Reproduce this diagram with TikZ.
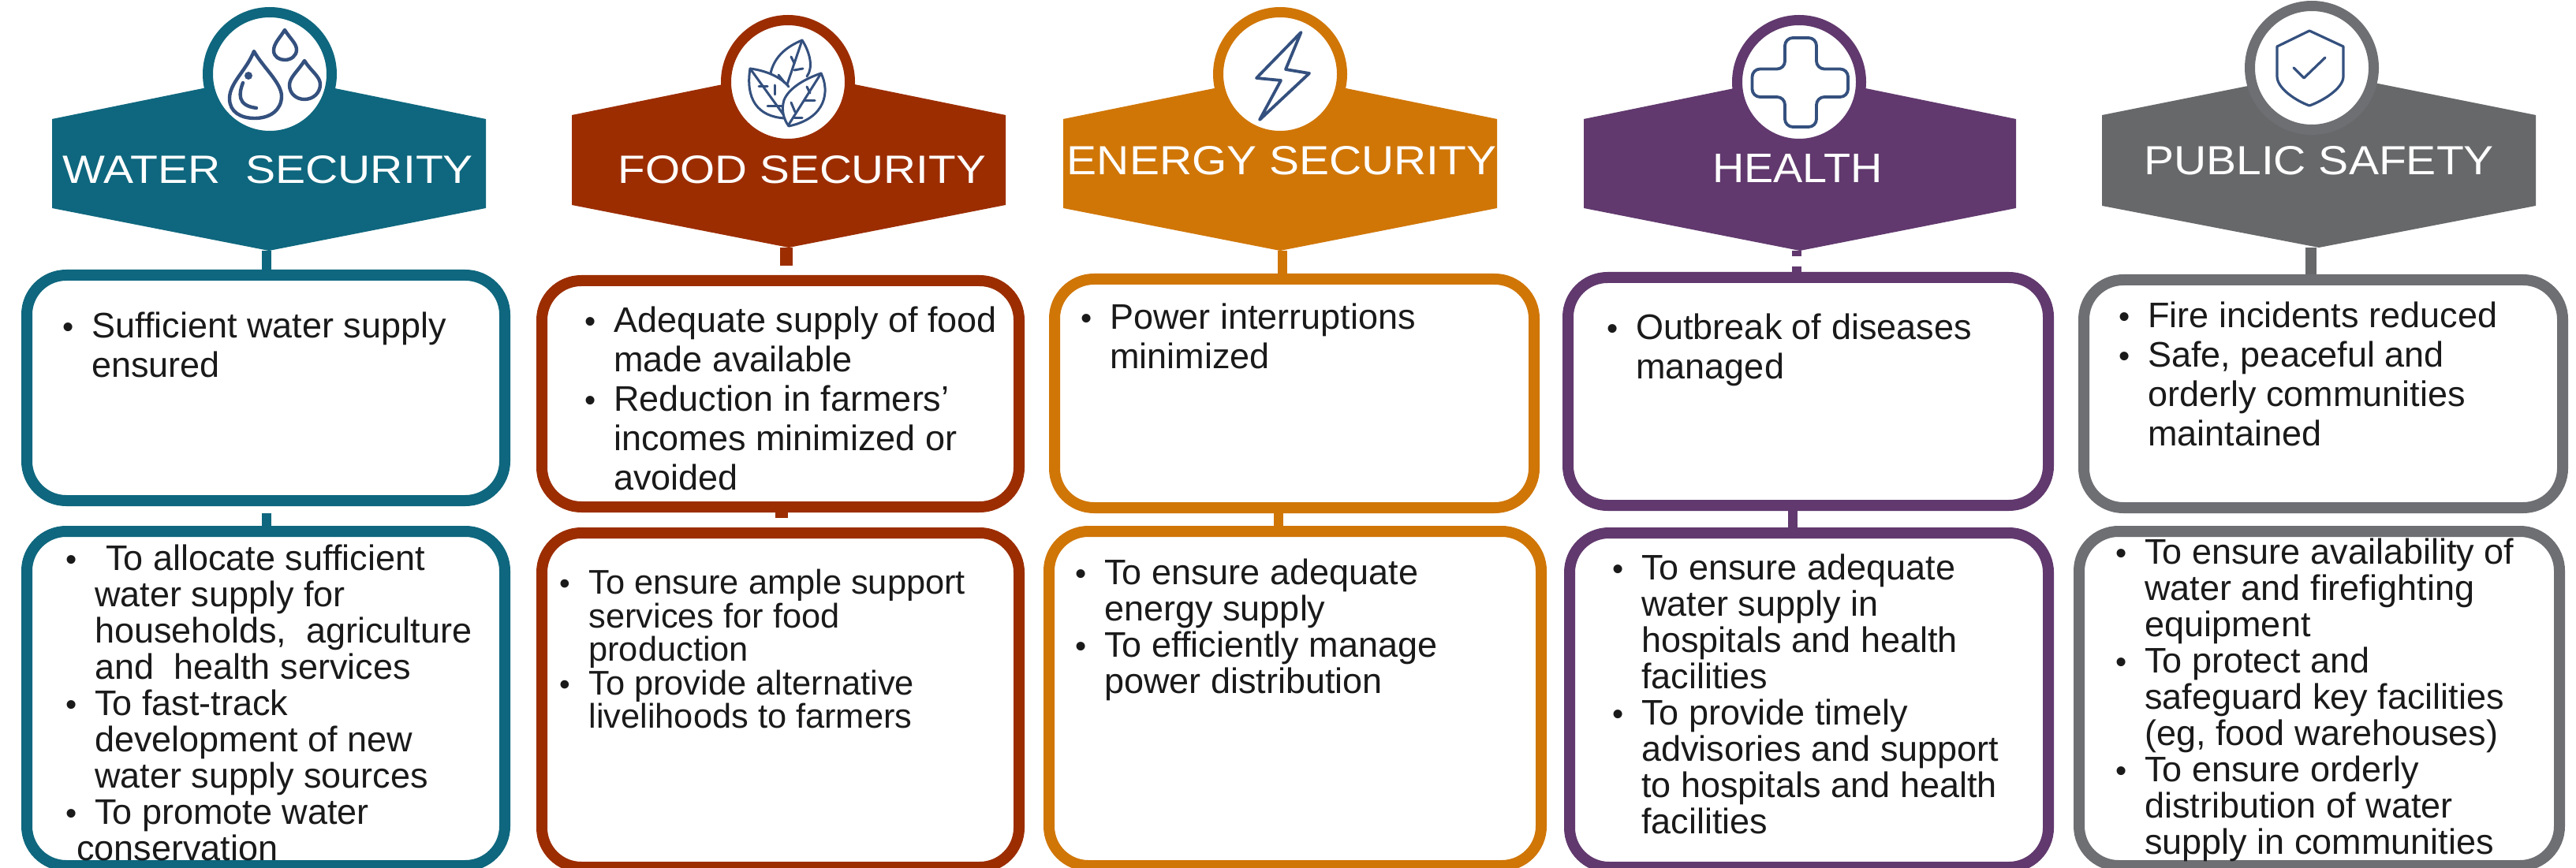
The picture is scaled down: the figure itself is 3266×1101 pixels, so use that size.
\documentclass[tikz,border=0pt]{standalone}
\usepackage{fontspec}
\usepackage{graphicx}
\setmainfont{Liberation Sans}
\definecolor{cteal}{HTML}{0E677E}
\definecolor{crust}{HTML}{9C2D00}
\definecolor{corange}{HTML}{D07607}
\definecolor{cpurple}{HTML}{61396E}
\definecolor{cgray}{HTML}{67686A}
\definecolor{cgrayb}{HTML}{6E6F73}
\definecolor{cicon}{HTML}{34507E}
\definecolor{ctext}{HTML}{1A1A1A}
\tikzset{
  panel/.style={draw=#1,fill=white,line width=7pt,rounded corners=25pt,inner sep=0pt,outer sep=3.5pt},
  ring/.style={circle,draw=#1,fill=white,line width=6.5pt,minimum size=78.5pt,inner sep=0pt},
  link/.style={draw=#1,line width=6pt},
  title/.style={text=white,inner sep=0pt},
  bodyA/.style={anchor=north west,inner sep=0pt,align=left,text=ctext,font=\fontsize{22.5}{25}\selectfont},
  bodyB/.style={anchor=north west,inner sep=0pt,align=left,text=ctext,font=\fontsize{22.5}{23}\selectfont},
  bodyC/.style={anchor=north west,inner sep=0pt,align=left,text=ctext,font=\fontsize{21.7}{21.3}\selectfont},
  icon/.style={draw=cicon,line width=2.2pt,line cap=round,line join=round},
  iconthin/.style={draw=cicon,line width=1.5pt,line cap=round,line join=round},
}
\newcommand\bu{\llap{\makebox[0pt]{\scalebox{0.9}{•}}\hspace{15pt}}}
\newcommand\fl{\rule{0pt}{21pt}}
% name colour x1 y1 x2 y2 (outer extents, px)
\newcommand\panelbox[6]{\node[panel=#2,minimum width={(#5-#3-14)*0.5pt},minimum height={(#6-#4-14)*0.5pt}] (#1) at ({(#3+#5)/2},{(#4+#6)/2}) {};}
% name colour cx halfwidth apex shoulder1 shoulder2 tip
\newcommand\hexa[8]{\fill[#2] (#3,#5) -- (#3+#4,#6) -- (#3+#4,#7) -- (#3,#8) -- (#3-#4,#7) -- (#3-#4,#6) -- cycle; \coordinate (#1) at (#3,#8);}
\newcommand\ttl[3]{\resizebox{#1pt}{#2pt}{#3}}
\begin{document}
\begin{tikzpicture}[x=0.5pt,y=-0.5pt]
\clip (0,0) rectangle (3266,1101);
\fill[white] (0,0) rectangle (3266,1101);

% ---------- headers
\hexa{wtip}{cteal}{341}{275}{95}{151}{264}{318}
\hexa{ftip}{crust}{1000}{275}{90}{146}{260}{314}
\hexa{etip}{corange}{1623}{275}{95}{151}{264}{318}
\hexa{htip}{cpurple}{2282}{274}{95}{151}{264}{318}
\hexa{stip}{cgray}{2940}{275}{91}{146}{261}{314}

\node[ring=cteal] (wic) at (342,94) {};
\node[ring=crust] (fic) at (999,104) {};
\node[ring=corange] (eic) at (1623,94) {};
\node[ring=cpurple] (hic) at (2281,104) {};
\node[ring=cgrayb] (sic) at (2931,86) {};

\node[title] (wt) at (340,215) {\ttl{260}{17.5}{WATER\ \ SECURITY}};
\node[title] (ft) at (1017,215) {\ttl{233}{17.5}{FOOD SECURITY}};
\node[title] (et) at (1625,204) {\ttl{272}{18}{ENERGY SECURITY}};
\node[title] (ht) at (2279,214) {\ttl{108}{18}{HEALTH}};
\node[title] (st) at (2940,204) {\ttl{222}{18}{PUBLIC SAFETY}};

% ---------- panels
\panelbox{wa}{cteal}{27}{342}{647}{642}
\panelbox{wb}{cteal}{27}{667}{647}{1105}
\panelbox{fa}{crust}{680}{349}{1299}{650}
\panelbox{fb}{crust}{680}{669}{1299}{1107}
\panelbox{ea}{corange}{1330}{347}{1952}{651}
\panelbox{eb}{corange}{1323}{667}{1961}{1105}
\panelbox{ha}{cpurple}{1981}{345}{2604}{648}
\panelbox{hb}{cpurple}{1983}{669}{2604}{1107}
\panelbox{sa}{cgrayb}{2635}{348}{3256}{651}
\panelbox{sb}{cgrayb}{2629}{667}{3252}{1105}

% ---------- connectors
\coordinate (wj) at (338,651);
\coordinate (wk) at (338,318);
\coordinate (fk) at (997,314);
\coordinate (fl) at (997,337);
\coordinate (fm) at (991,657);
\coordinate (ek) at (1626,318);
\coordinate (ej) at (1621,651);
\coordinate (hk) at (2278,318);
\coordinate (hl) at (2278,325);
\coordinate (hm) at (2278,338);
\coordinate (hj) at (2273,648);
\coordinate (sk) at (2930,314);
\draw[link=cteal] (wk) -- (wk |- wa.north);
\draw[link=cteal] (wj) -- (wj |- wb.north);
\draw[link=crust,line width=8pt] (fk) -- (fl);
\draw[link=crust,line width=8pt] (fm) -- (fm |- fa.south);
\draw[link=corange] (ek) -- (ek |- ea.north);
\draw[link=corange] (ej |- ea.south) -- (ej |- eb.north);
\draw[link=cpurple] (hk) -- (hl);
\draw[link=cpurple] (hm) -- (hm |- ha.north);
\draw[link=cpurple] (hj |- ha.south) -- (hj |- hb.north);
\draw[link=cgray,line width=7pt] (sk) -- (sk |- sa.north);

% ---------- texts
\node[bodyA] (wat) at (116,386) {\fl\bu Sufficient water supply\\ensured};
\node[bodyB] (wbt) at (120,681) {\fl\bu\hspace*{7pt}To allocate sufficient\\water supply for\\households,~ agriculture\\and~ health services\\\bu To fast-track\\development of new\\water supply sources\\\bu To promote water\\\hspace*{-11.5pt}conservation};
\node[bodyA] (fat) at (778,379) {\fl\bu Adequate supply of food\\made available\\\bu Reduction in farmers'\\incomes minimized or\\avoided};
\node[bodyC] (fbt) at (746,711) {\fl\bu To ensure ample support\\services for food\\production\\\bu To provide alternative\\livelihoods to farmers};
\node[bodyA] (eat) at (1407,375) {\fl\bu Power interruptions\\minimized};
\node[bodyB] (ebt) at (1400,699) {\fl\bu To ensure adequate\\energy supply\\\bu To efficiently manage\\power distribution};
\node[bodyA] (hat) at (2074,388) {\fl\bu Outbreak of diseases\\managed};
\node[bodyB] (hbt) at (2081,693) {\fl\bu To ensure adequate\\water supply in\\hospitals and health\\facilities\\\bu To provide timely\\advisories and support\\to hospitals and health\\facilities};
\node[bodyA] (sat) at (2723,373) {\fl\bu Fire incidents reduced\\\bu Safe, peaceful and\\orderly communities\\maintained};
\node[bodyB] (sbt) at (2719,673) {\fl\bu To ensure availability of\\water and firefighting\\equipment\\\bu To protect and\\safeguard key facilities\\(eg, food warehouses)\\\bu To ensure orderly\\distribution of water\\supply in communities};

% ---------- icons
% water drops
\draw[icon] (322,65) .. controls (312,90) and (291,105) .. (291,125) .. controls (291,142) and (305,150) .. (323,150) .. controls (342,150) and (357,140) .. (357,122) .. controls (357,105) and (333,85) .. (322,65) -- cycle;
\draw[icon] (361,38) .. controls (355,48) and (347,55) .. (347,64) .. controls (347,72) and (354,76) .. (361,76) .. controls (369,76) and (376,71) .. (376,63) .. controls (376,55) and (367,48) .. (361,38) -- cycle;
\draw[icon] (386,77) .. controls (378,90) and (367,98) .. (367,108) .. controls (367,119) and (376,126) .. (386,126) .. controls (397,126) and (406,118) .. (406,107) .. controls (406,97) and (394,90) .. (386,77) -- cycle;
\draw[icon] (308,105) .. controls (303,118) and (300,134) .. (325,137);
\fill[cicon] (315,96) circle (5);

% leaves
\draw[iconthin] (977,93) .. controls (982,70) and (1000,58) .. (1017,51) .. controls (1026,65) and (1032,85) .. (1023,97);
\draw[iconthin] (1017,51) -- (998,107);
\draw[iconthin] (1003,72) -- (1007,80);
\draw[iconthin] (1007,89) -- (1018,87);
\draw[iconthin] (987,95) -- (995,105);
\draw[iconthin] (951,87) .. controls (975,90) and (992,100) .. (1000,110);
\draw[iconthin] (951,87) .. controls (945,125) and (960,148) .. (995,150);
\draw[iconthin] (951,87) -- (993,145);
\draw[iconthin] (962,110) -- (973,110);
\draw[iconthin] (982,108) -- (982,120);
\draw[iconthin] (973,135) -- (991,135);
\draw[iconthin] (1041,93) .. controls (1020,100) and (1000,112) .. (994,127) .. controls (990,140) and (994,152) .. (1000,160);
\draw[iconthin] (1041,93) .. controls (1052,115) and (1048,150) .. (1000,160);
\draw[iconthin] (1041,93) -- (1000,158);
\draw[iconthin] (1023,110) -- (1027,118);
\draw[iconthin] (1020,128) -- (1033,128);
\draw[iconthin] (1003,130) -- (1008,142);
\draw[iconthin] (1007,150) -- (1017,150);

% bolt
\draw[icon,line width=1.9pt] (1649.5,41) -- (1593,99) -- (1624,102) -- (1597,152) -- (1660,93) -- (1630,88) -- cycle;

% cross
\draw[icon,line width=1.9pt,rounded corners=5pt] (2263,48) -- (2303,48) -- (2303,87.5) -- (2343,87.5) -- (2343,123) -- (2303,123) -- (2303,161) -- (2263,161) -- (2263,123) -- (2221.5,123) -- (2221.5,87.5) -- (2263,87.5) -- cycle;

% shield
\draw[icon,line width=1.6pt] (2928,39) -- (2971,59) -- (2971,97) .. controls (2971,112) and (2945,128) .. (2928,134) .. controls (2911,128) and (2887,112) .. (2887,97) -- (2887,59) -- cycle;
\draw[icon,line width=1.6pt] (2908,86) -- (2921,99) -- (2948,73);
\end{tikzpicture}
\end{document}
